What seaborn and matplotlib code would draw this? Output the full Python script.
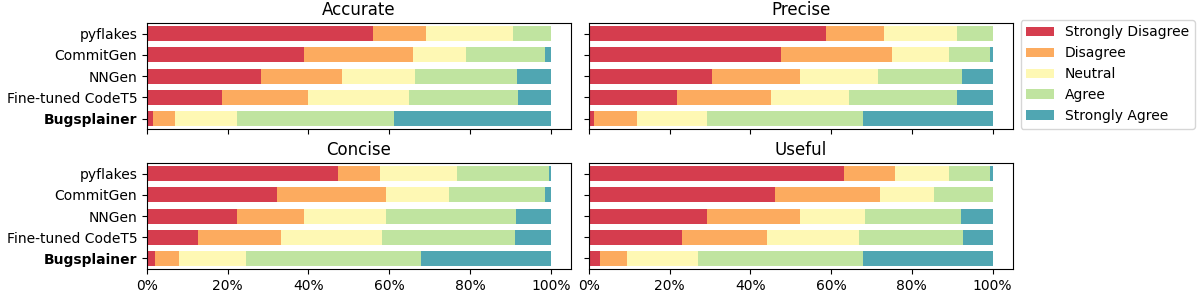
import pandas as pd
import numpy as np
import matplotlib
matplotlib.use("Agg")
import matplotlib.pyplot as plt
import seaborn as sns
from matplotlib.ticker import PercentFormatter

# === Données (pourcentages) ===
models = ["pyflakes", "CommitGen", "NNGen", "Fine-tuned CodeT5", "Bugsplainer"]
levels = ["Strongly Disagree", "Disagree", "Neutral", "Agree", "Strongly Agree"]
colors = ["#d53d4e", "#fcab5f", "#fef8b4", "#c0e4a0", "#50a6b2"]

# une ligne par modèle : SD, D, N, A, SA
accurate = [
    [56.1, 12.9, 21.6, 9.4, 0.0],
    [39.0, 26.8, 13.1, 19.6, 1.5],
    [28.3, 19.9, 18.1, 25.3, 8.4],
    [18.7, 21.3, 25.0, 26.8, 8.2],
    [1.6, 5.4, 15.4, 38.9, 38.7],
]
precise = [
    [58.8, 14.2, 18.3, 8.7, 0.0],
    [47.7, 27.3, 14.3, 10.0, 0.7],
    [30.6, 21.8, 19.1, 20.8, 7.7],
    [21.7, 23.5, 19.3, 26.6, 8.9],
    [1.3, 10.7, 17.3, 38.5, 32.2],
]
concise = [
    [47.4, 10.2, 19.3, 22.8, 0.3],
    [32.1, 27.2, 15.4, 23.8, 1.5],
    [22.4, 16.6, 20.1, 32.2, 8.7],
    [12.7, 20.6, 24.8, 33.0, 8.9],
    [2.1, 5.9, 16.4, 43.4, 32.2],
]
useful = [
    [63.1, 12.6, 13.6, 10.0, 0.7],
    [46.2, 26.0, 13.4, 14.4, 0.0],
    [29.3, 23.1, 15.9, 23.8, 7.9],
    [23.1, 21.1, 22.8, 25.6, 7.4],
    [2.8, 6.7, 17.6, 40.9, 32.0],
]

panels = {"Accurate": accurate, "Precise": precise, "Concise": concise, "Useful": useful}

fig, axes = plt.subplots(2, 2, figsize=(12, 3), dpi=100, sharex=True, sharey=True)
plt.subplots_adjust(left=0.1225, right=0.844, top=0.923, bottom=0.103,
                    wspace=0.0425, hspace=0.32)

for ax, (title, values) in zip(axes.flat, panels.items()):
    df = pd.DataFrame(values, index=models, columns=levels)
    cum = df.cumsum(axis=1)
    # barres empilées : on trace les cumuls du plus grand au plus petit
    for lvl, col in reversed(list(zip(levels, colors))):
        sns.barplot(x=cum[lvl].values, y=models, order=models, orient="h",
                    color=col, saturation=1, width=0.7, linewidth=0,
                    label=lvl, ax=ax)
    ax.set_title(title, fontsize=12)
    ax.set_xlim(0, 105)
    ax.set_xlabel("")
    ax.set_ylabel("")
    ax.xaxis.set_major_formatter(PercentFormatter(100, decimals=0))
    ax.set_xticks([0, 20, 40, 60, 80, 100])
    for lbl in ax.get_yticklabels():
        if lbl.get_text() == "Bugsplainer":
            lbl.set_fontweight("bold")
    if ax.get_legend() is not None:
        ax.get_legend().remove()

handles, labels = axes[0, 0].get_legend_handles_labels()
fig.legend(handles[::-1], labels[::-1], loc="upper left",
           bbox_to_anchor=(0.8505, 0.934), borderaxespad=0, fontsize=10)

plt.savefig("out.png", dpi=100)
